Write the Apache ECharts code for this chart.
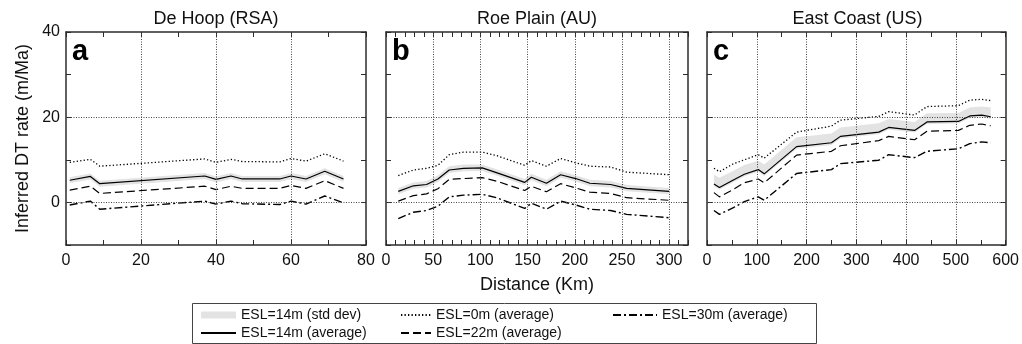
<!DOCTYPE html>
<html>
<head>
<meta charset="utf-8">
<script src="https://cdn.jsdelivr.net/npm/echarts@6/dist/echarts.min.js"></script>
<style>
html,body{margin:0;padding:0;background:#fff;}
#chart{width:1022px;height:344px;}
</style>
</head>
<body>
<div id="chart"></div>
<script>
// ---------- data ----------
const panelTitles = ['De Hoop (RSA)', 'Roe Plain (AU)', 'East Coast (US)'];
const panelLetters = ['a', 'b', 'c'];
const seriesNames = ['ESL=14m (std dev)', 'ESL=14m (average)', 'ESL=0m (average)', 'ESL=22m (average)', 'ESL=30m (average)'];

// Panel a: De Hoop (RSA)
const distA = [1, 6.5, 9, 37, 40, 44, 47, 57, 60, 64, 69, 74];
const esl14A = [5.2, 6.1, 4.4, 6.2, 5.4, 6.2, 5.5, 5.5, 6.2, 5.5, 7.3, 5.5];
const esl14LoA = [4.5, 5.4, 3.7, 5.5, 4.7, 5.5, 4.8, 4.8, 5.5, 4.8, 6.6, 4.8];
const esl14HiA = [5.9, 6.8, 5.1, 6.9, 6.1, 6.9, 6.2, 6.2, 6.9, 6.2, 8.0, 6.2];
const esl0A = [9.4, 10.1, 8.5, 10.2, 9.4, 10.1, 9.6, 9.5, 10.3, 9.7, 11.4, 9.7];
const esl22A = [2.9, 3.8, 2.1, 3.8, 3.0, 3.8, 3.3, 3.3, 4.0, 3.3, 5.1, 3.3];
const esl30A = [-0.6, 0.3, -1.6, 0.3, -0.4, 0.3, -0.3, -0.5, 0.3, -0.4, 1.5, -0.1];

// Panel b: Roe Plain (AU)
const distB = [13, 29, 43, 55, 67, 82, 102, 117, 147, 154, 170, 185, 201, 216, 238, 255, 300];
const esl14B = [2.6, 3.9, 4.2, 5.5, 7.6, 8.0, 8.1, 7.0, 4.7, 5.9, 4.5, 6.5, 5.6, 4.5, 4.2, 3.3, 2.6];
const esl14LoB = [1.9, 3.2, 3.5, 4.8, 6.9, 7.3, 7.4, 6.3, 4.0, 5.2, 3.8, 5.8, 4.9, 3.8, 3.5, 2.6, 1.9];
const esl14HiB = [3.4, 4.7, 5.0, 6.3, 8.5, 8.9, 8.9, 7.8, 5.5, 6.7, 5.3, 7.3, 6.4, 5.3, 5.0, 4.1, 3.4];
const esl0B = [6.3, 7.6, 8.0, 8.7, 11.2, 11.8, 11.8, 11.0, 8.7, 9.8, 8.5, 10.3, 9.3, 8.5, 8.3, 7.1, 6.5];
const esl22B = [0.3, 1.6, 2.0, 3.2, 5.4, 5.6, 5.8, 5.0, 2.8, 3.8, 2.5, 4.4, 3.4, 2.4, 2.1, 1.1, 0.5];
const esl30B = [-3.8, -2.3, -1.9, -0.9, 1.3, 1.7, 1.9, 1.1, -1.4, -0.2, -1.6, 0.3, -0.6, -1.6, -1.9, -2.8, -3.6];

// Panel c: East Coast (US)
const distC = [14, 25, 52, 75, 103, 115, 180, 250, 268, 345, 365, 417, 442, 505, 528, 552, 570];
const esl14C = [4.3, 3.5, 5.2, 6.6, 7.7, 6.7, 13.1, 14.0, 15.5, 16.5, 17.6, 16.9, 18.9, 19.0, 20.3, 20.5, 20.1];
const esl14LoC = [3.8, 3.0, 4.7, 6.1, 7.2, 6.2, 12.6, 13.5, 15.0, 16.0, 17.1, 16.4, 18.4, 18.5, 19.8, 20.0, 19.6];
const esl14HiC = [6.5, 5.8, 7.4, 8.8, 9.8, 8.9, 15.3, 16.2, 17.6, 18.6, 19.6, 18.9, 20.9, 21.0, 22.3, 22.5, 22.3];
const esl0C = [8.0, 7.2, 9.0, 10.0, 11.2, 10.4, 16.5, 17.9, 19.3, 20.2, 21.3, 20.5, 22.5, 22.7, 24.0, 24.2, 23.9];
const esl22C = [2.3, 1.3, 3.0, 4.6, 5.5, 4.6, 11.1, 12.0, 13.3, 14.5, 15.5, 14.7, 16.7, 16.9, 18.1, 18.4, 18.0];
const esl30C = [-1.9, -2.8, -1.3, 0.2, 1.3, 0.5, 6.8, 7.7, 9.1, 9.9, 11.2, 10.5, 12.0, 12.6, 13.8, 14.2, 14.0];

// axes / ticks
const xMaxes = [80, 320, 600];
const xTickSteps = [10, 10, 50];
const xLabelsA = [0, 20, 40, 60, 80];
const xLabelsB = [0, 50, 100, 150, 200, 250, 300];
const xLabelsC = [0, 100, 200, 300, 400, 500, 600];
const xGridA = [20, 40, 60];
const xGridB = [50, 100, 150, 200, 250, 300];
const xGridC = [100, 200, 300, 400, 500];
const yLabels = [0, 20, 40];
const yGrid = [0, 20];
const yMin = -10, yMax = 40, yStep = 10;

// ---------- chart ----------
const FONT = 'Liberation Sans, Arial, Helvetica, sans-serif';
const INK = '#111';
const AX = '#2b2b2b';
const BAND = '#e3e3e3';
const NOFILL = 'rgba(0,0,0,0)';

const panels = [
  {dist: distA, s14: esl14A, lo: esl14LoA, hi: esl14HiA, s0: esl0A, s22: esl22A, s30: esl30A, labels: xLabelsA, grid: xGridA},
  {dist: distB, s14: esl14B, lo: esl14LoB, hi: esl14HiB, s0: esl0B, s22: esl22B, s30: esl30B, labels: xLabelsB, grid: xGridB},
  {dist: distC, s14: esl14C, lo: esl14LoC, hi: esl14HiC, s0: esl0C, s22: esl22C, s30: esl30C, labels: xLabelsC, grid: xGridC}
];
const gridBoxes = [
  {left: 66, top: 32, width: 300, height: 213},
  {left: 386, top: 32, width: 302, height: 213},
  {left: 707, top: 32, width: 301, height: 213}
];

const pairs = (xs, ys) => xs.map((x, i) => [x, ys[i]]);

const xAxes = [], yAxes = [], series = [], titles = [];
panels.forEach((p, i) => {
  const baseX = {
    gridIndex: i, type: 'value', min: 0, max: xMaxes[i], interval: xTickSteps[i],
    axisLine: {show: true, onZero: false, lineStyle: {color: AX, width: 1.5}},
    axisTick: {show: true, inside: true, length: 5, lineStyle: {color: AX, width: 1}},
    splitLine: {show: false}
  };
  xAxes.push(Object.assign({}, baseX, {
    position: 'bottom',
    axisLabel: {show: true, margin: 8, fontSize: 16, color: INK, fontFamily: FONT,
      formatter: v => p.labels.indexOf(v) >= 0 ? String(v) : ''}
  }));
  xAxes.push(Object.assign({}, baseX, {position: 'top', axisLabel: {show: false}}));
  const baseY = {
    gridIndex: i, type: 'value', min: yMin, max: yMax, interval: yStep,
    axisLine: {show: true, onZero: false, lineStyle: {color: AX, width: 1.5}},
    axisTick: {show: true, inside: true, length: 5, lineStyle: {color: AX, width: 1}},
    splitLine: {show: false}
  };
  yAxes.push(Object.assign({}, baseY, {
    position: 'left',
    axisLabel: {show: i === 0, margin: 6, fontSize: 16, color: INK, fontFamily: FONT,
      formatter: v => yLabels.indexOf(v) >= 0 ? String(v) : ''},
    name: i === 0 ? 'Inferred DT rate (m/Ma)' : '',
    nameLocation: 'middle', nameGap: 34,
    nameTextStyle: {fontSize: 18, color: INK, fontFamily: FONT}
  }));
  yAxes.push(Object.assign({}, baseY, {position: 'right', axisLabel: {show: false}}));

  const xi = 2 * i, yi = 2 * i;
  // std dev band
  series.push({
    name: seriesNames[0], type: 'custom', xAxisIndex: xi, yAxisIndex: yi, z: 1,
    itemStyle: {color: BAND},
    data: p.dist.map((x, k) => [x, p.lo[k], p.hi[k]]),
    encode: {x: 0, y: [1, 2]},
    renderItem: (params, api) => {
      if (params.dataIndex !== 0) return null;
      const pts = [];
      for (let k = 0; k < p.dist.length; k++) pts.push(api.coord([p.dist[k], p.hi[k]]));
      for (let k = p.dist.length - 1; k >= 0; k--) pts.push(api.coord([p.dist[k], p.lo[k]]));
      return {type: 'polygon', shape: {points: pts}, style: {fill: BAND}};
    }
  });
  const lineCommon = {type: 'line', xAxisIndex: xi, yAxisIndex: yi, symbol: 'none', showSymbol: false, z: 3, silent: true};
  series.push(Object.assign({}, lineCommon, {
    name: seriesNames[1], data: pairs(p.dist, p.s14),
    lineStyle: {color: '#000', width: 1.2, type: 'solid'}, itemStyle: {color: '#000'},
    markLine: {
      silent: true, symbol: 'none', label: {show: false}, animation: false,
      lineStyle: {color: '#444', width: 1, type: [1, 1.5]},
      data: yGrid.map(v => ({yAxis: v})).concat(p.grid.map(v => ({xAxis: v})))
    }
  }));
  series.push(Object.assign({}, lineCommon, {
    name: seriesNames[2], data: pairs(p.dist, p.s0),
    lineStyle: {color: '#000', width: 1.3, type: [1.3, 2.2]}, itemStyle: {color: '#000'}
  }));
  series.push(Object.assign({}, lineCommon, {
    name: seriesNames[3], data: pairs(p.dist, p.s22),
    lineStyle: {color: '#000', width: 1.2, type: [8, 4]}, itemStyle: {color: '#000'}
  }));
  series.push(Object.assign({}, lineCommon, {
    name: seriesNames[4], data: pairs(p.dist, p.s30),
    lineStyle: {color: '#000', width: 1.4, type: [8, 3, 2, 3]}, itemStyle: {color: '#000'}
  }));

  const g = gridBoxes[i];
  titles.push({text: panelTitles[i], left: g.left + g.width / 2, top: 10, textAlign: 'center', padding: 0,
    textStyle: {fontSize: 18, fontWeight: 'normal', color: INK, fontFamily: FONT}});
  titles.push({text: panelLetters[i], left: g.left + 6, top: 37, padding: 0,
    textStyle: {fontSize: 29, fontWeight: 'bold', color: '#000', fontFamily: FONT}});
});
titles.push({text: 'Distance (Km)', left: 537, top: 276, textAlign: 'center', padding: 0,
  textStyle: {fontSize: 18, fontWeight: 'normal', color: INK, fontFamily: FONT}});

const legendText = {fontSize: 14, color: INK, fontFamily: FONT};
const lineLegendItem = name => ({name: name, itemStyle: {color: NOFILL, borderWidth: 0, borderColor: NOFILL}});
const option = {
  animation: false,
  backgroundColor: '#fff',
  title: titles,
  grid: gridBoxes.map(g => Object.assign({containLabel: false}, g)),
  xAxis: xAxes,
  yAxis: yAxes,
  legend: [
    {orient: 'vertical', left: 200, top: 308, padding: 0, itemGap: 4, itemWidth: 35, itemHeight: 7,
      selectedMode: false, textStyle: legendText,
      data: [{name: seriesNames[0], icon: 'rect', itemStyle: {color: BAND}}, lineLegendItem(seriesNames[1])]},
    {orient: 'vertical', left: 400, top: 308, padding: 0, itemGap: 4, itemWidth: 30, itemHeight: 7,
      selectedMode: false, textStyle: legendText,
      data: [lineLegendItem(seriesNames[2]), lineLegendItem(seriesNames[3])]},
    {orient: 'vertical', left: 612, top: 308, padding: 0, itemGap: 4, itemWidth: 44, itemHeight: 7,
      selectedMode: false, textStyle: legendText,
      data: [lineLegendItem(seriesNames[4])]}
  ],
  graphic: [{
    type: 'rect', silent: true, z: -1,
    shape: {x: 192.5, y: 303.5, width: 624, height: 40},
    style: {fill: 'none', stroke: '#444', lineWidth: 1}
  }],
  series: series
};

const chart = echarts.init(document.getElementById('chart'), null, {renderer: 'canvas'});
chart.setOption(option);
</script>
</body>
</html>
